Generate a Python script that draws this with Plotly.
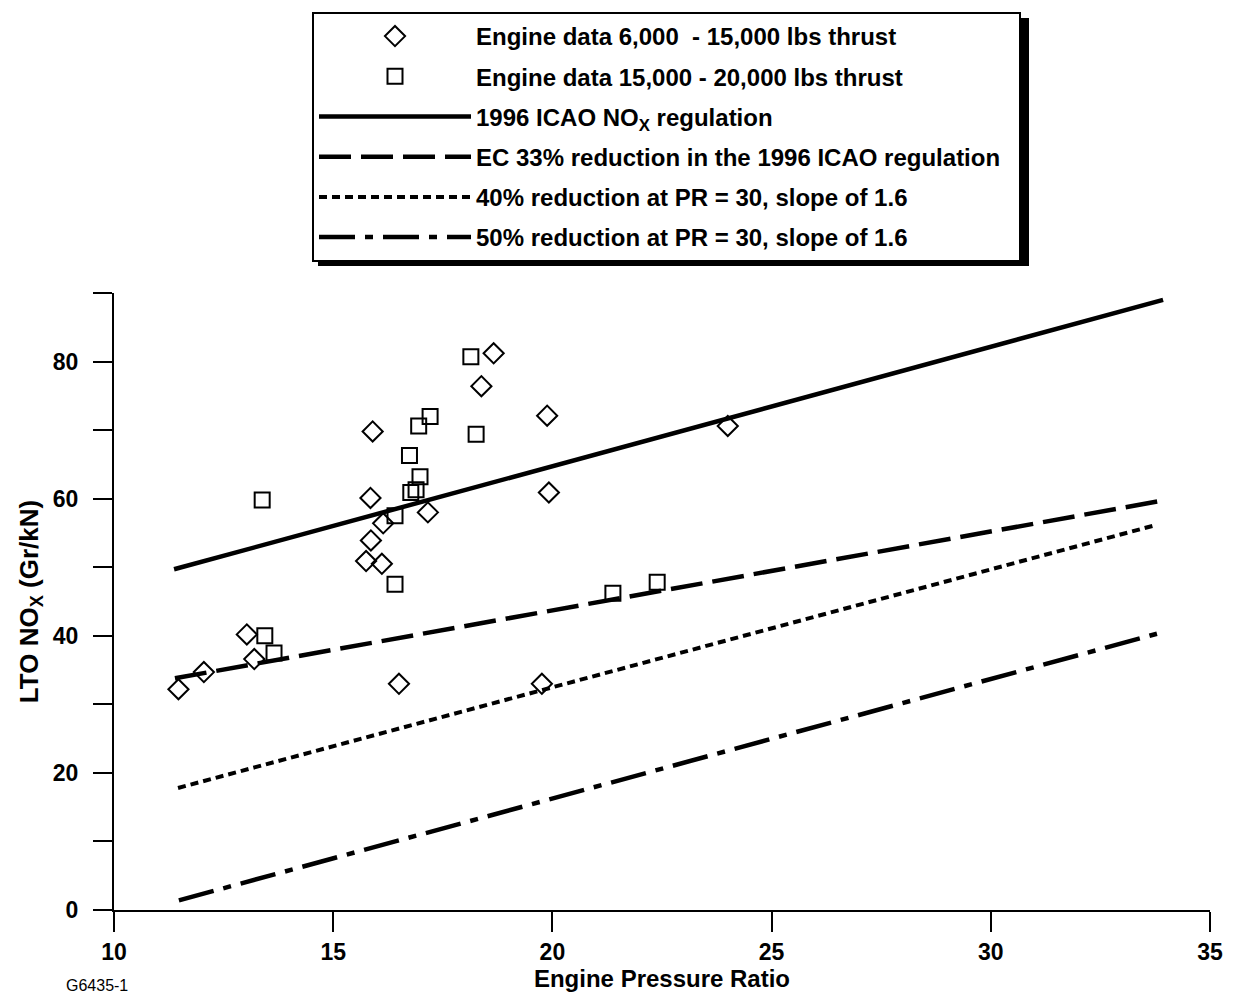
import plotly.graph_objects as go

# ---------------- data ----------------
diamond_pr = [11.47, 12.05, 13.03, 13.20, 15.90, 15.85, 15.86, 15.75, 16.11, 16.14,
              16.50, 17.16, 18.38, 18.66, 19.88, 19.92, 19.76, 24.00]
diamond_nox = [32.2, 34.7, 40.2, 36.6, 69.8, 60.1, 53.9, 50.9, 50.5, 56.4,
               33.0, 58.0, 76.4, 81.2, 72.1, 60.9, 33.0, 70.6]

square_pr = [13.38, 13.44, 13.65, 16.41, 16.41, 16.74, 16.77, 16.89, 16.98, 16.95,
             17.21, 18.14, 18.26, 21.38, 22.39]
square_nox = [59.8, 40.0, 37.5, 47.5, 57.5, 66.3, 60.9, 61.3, 63.2, 70.6,
              72.0, 80.7, 69.4, 46.2, 47.8]

icao_pr = [11.37, 33.93]
icao_nox = [49.7, 89.0]
ec_pr = [11.39, 33.90]
ec_nox = [33.8, 59.7]
red40_pr = [11.46, 33.79]
red40_nox = [17.8, 56.2]
red50_pr = [11.48, 33.79]
red50_nox = [1.4, 40.3]

names = [
    "Engine data 6,000\u00a0 - 15,000 lbs thrust",
    "Engine data 15,000 - 20,000 lbs thrust",
    "1996 ICAO NO<sub>X</sub> regulation",
    "EC 33% reduction in the 1996 ICAO regulation\u00a0\u00a0",
    "40% reduction at PR = 30, slope of 1.6",
    "50% reduction at PR = 30, slope of 1.6",
]

x_ticks = [10, 15, 20, 25, 30, 35]
y_ticks = [0, 20, 40, 60, 80]

FONT = "Liberation Sans, Arial, sans-serif"

fig = go.Figure()

fig.add_trace(go.Scatter(
    x=diamond_pr, y=diamond_nox, mode="markers", name=names[0],
    marker=dict(symbol="diamond-open", size=15.5, color="black",
                line=dict(width=2, color="black")),
    legendgroup="a"))
fig.add_trace(go.Scatter(
    x=square_pr, y=square_nox, mode="markers", name=names[1],
    marker=dict(symbol="square-open", size=15, color="black",
                line=dict(width=2, color="black")),
    legendgroup="b"))
fig.add_trace(go.Scatter(
    x=icao_pr, y=icao_nox, mode="lines", name=names[2],
    line=dict(color="black", width=4.5), legendgroup="c"))
fig.add_trace(go.Scatter(
    x=ec_pr, y=ec_nox, mode="lines", name=names[3],
    line=dict(color="black", width=4.5, dash="32px,10px"), legendgroup="d"))
fig.add_trace(go.Scatter(
    x=red40_pr, y=red40_nox, mode="lines", name=names[4],
    line=dict(color="black", width=4, dash="8px,5px"), legendgroup="e"))
fig.add_trace(go.Scatter(
    x=red50_pr, y=red50_nox, mode="lines", name=names[5],
    line=dict(color="black", width=4.5, dash="36px,10px,8px,10px"), legendgroup="f"))

# page has an 8px body margin; figure occupies 1220x987 starting at (8, 8)
OFF = 8
FW, FH = 1220, 987
# desired plot area in page pixels: x 114..1210, y 293..910
L = 114 - OFF
T = 293 - OFF
R = FW - (1210 - OFF)
B = FH - (910 - OFF)
W = FW - L - R
H = FH - T - B


def px(xp):
    return (xp - OFF - L) / W


def py(yp):
    return (T + H - (yp - OFF)) / H


# drop shadow of the legend box
fig.add_shape(type="rect", xref="paper", yref="paper",
              x0=px(318), x1=px(1029), y0=py(266), y1=py(18),
              fillcolor="black", line=dict(width=0), layer="below")

fig.add_annotation(text="G6435-1", xref="paper", yref="paper",
                   x=px(97), y=py(985), showarrow=False,
                   xanchor="center", yanchor="middle",
                   font=dict(family=FONT, size=16, color="black"))

fig.update_layout(
    width=FW, height=FH,
    margin=dict(l=L, r=R, t=T, b=B, autoexpand=False),
    paper_bgcolor="white", plot_bgcolor="white",
    font=dict(family=FONT, color="black"),
    showlegend=True,
    legend=dict(
        x=px(312), y=py(12), xanchor="left", yanchor="top",
        bgcolor="white", bordercolor="black", borderwidth=2,
        font=dict(family=FONT, size=24, color="black", weight="bold"),
        itemwidth=152, tracegroupgap=6,
        traceorder="grouped",
    ),
    xaxis=dict(
        range=[10, 35], tickvals=x_ticks, ticktext=[str(v) for v in x_ticks],
        showgrid=False, zeroline=False, showline=True, linecolor="black",
        linewidth=2, ticks="outside", ticklen=20, tickwidth=2, tickcolor="black",
        ticklabelstandoff=0,
        tickfont=dict(family=FONT, size=23, color="black", weight="bold"),
        title=dict(text="Engine Pressure Ratio", standoff=7,
                   font=dict(family=FONT, size=24, color="black", weight="bold")),
        automargin=False,
    ),
    yaxis=dict(
        range=[0, 90], tickvals=y_ticks, ticktext=[str(v) for v in y_ticks],
        showgrid=False, zeroline=False, showline=True, linecolor="black",
        linewidth=2, ticks="outside", ticklen=19, tickwidth=2, tickcolor="black",
        minor=dict(dtick=10, tick0=0, ticks="outside", ticklen=19, tickwidth=2,
                   tickcolor="black", showgrid=False),
        ticklabelstandoff=10,
        tickfont=dict(family=FONT, size=23, color="black", weight="bold"),
        title=dict(text="LTO NO<sub>X</sub> (Gr/kN)", standoff=7,
                   font=dict(family=FONT, size=26, color="black", weight="bold")),
        automargin=False,
    ),
)

fig.write_html("out.html")
